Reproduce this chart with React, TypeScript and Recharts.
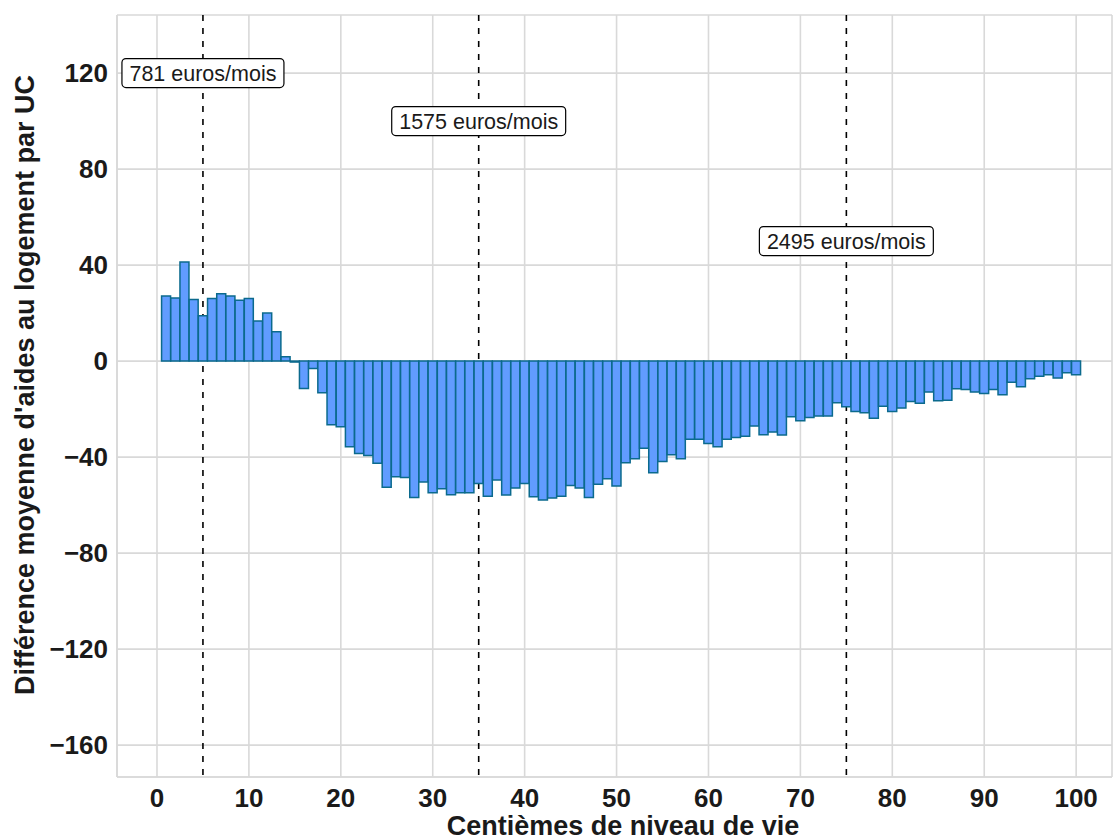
import { BarChart, Bar, XAxis, YAxis, CartesianGrid, ReferenceDot } from 'recharts';

const centiles = Array.from({ length: 100 }, (_, i) => i + 1);

const diffs = [
  27.1, 26.3, 41.3, 25.7, 18.9, 26.1, 28.1, 27.1, 25.3, 26.1,
  16.7, 20.0, 12.2, 1.8, -0.4, -11.4, -3.1, -13.2, -26.5, -27.4,
  -35.7, -38.5, -39.3, -42.6, -52.6, -48.2, -48.5, -56.8, -50.4, -54.9,
  -53.2, -55.7, -54.9, -54.9, -51.0, -56.3, -49.6, -55.8, -52.9, -51.0,
  -56.5, -57.9, -57.1, -56.3, -51.8, -52.9, -56.8, -51.3, -49.0, -52.1,
  -42.4, -40.7, -36.3, -46.5, -41.8, -39.0, -40.7, -32.6, -32.6, -34.3,
  -35.7, -32.6, -31.8, -31.3, -27.1, -30.7, -29.6, -30.8, -23.2, -24.9,
  -23.5, -22.9, -22.9, -17.4, -19.0, -21.0, -21.5, -23.8, -18.8, -21.0,
  -19.6, -16.8, -17.6, -12.9, -16.5, -16.3, -11.5, -11.8, -12.9, -13.5,
  -11.8, -14.0, -8.8, -10.7, -7.4, -6.3, -5.7, -7.1, -4.9, -5.7,
];

const xTicks = [0, 10, 20, 30, 40, 50, 60, 70, 80, 90, 100];
const yTicks = [-160, -120, -80, -40, 0, 40, 80, 120];

const seuils = [5, 35, 75];
const seuilLabels = ['781 euros/mois', '1575 euros/mois', '2495 euros/mois'];
const seuilLabelY = [120, 100, 50];

const data = centiles.map((c, i) => ({ centile: c, diff: diffs[i] }));

const FONT = '"Liberation Sans", Arial, Helvetica, sans-serif';
const GRID = '#d9d9d9';

function textWidth(text: string, size: number) {
  const ctx = document.createElement('canvas').getContext('2d');
  if (!ctx) return text.length * size * 0.5;
  ctx.font = `${size}px "Liberation Sans"`;
  return ctx.measureText(text).width;
}

function SeuilTag({ cx, cy, text }: { cx?: number; cy?: number; text: string }) {
  if (cx == null || cy == null) return null;
  const fs = 21.5;
  const w = textWidth(text, fs) + 15;
  const h = 29;
  return (
    <g>
      <rect x={cx - w / 2} y={cy - h / 2} width={w} height={h} rx={4} ry={4} fill="#fff" stroke="#000" strokeWidth={1.2} />
      <text x={cx} y={cy} dy="0.36em" textAnchor="middle" fontSize={fs} fill="#1a1a1a" fontFamily={FONT}>
        {text}
      </text>
    </g>
  );
}

const fmt = (v: number) => (v < 0 ? `\u2212${Math.abs(v)}` : `${v}`);

export default function App() {
  return (
    <div style={{ position: 'absolute', left: 0, top: 0, width: 1113, height: 840, background: '#fff', fontFamily: FONT }}>
      <BarChart width={1113} height={840} data={data} margin={{ top: 15, right: 1, left: 0, bottom: 0 }} barCategoryGap={0} barGap={0}>
        <CartesianGrid stroke={GRID} strokeWidth={1.6} />
        {/* dashed threshold lines drawn as a grid so they sit behind the bars */}
        <CartesianGrid horizontal={false} stroke="#000" strokeWidth={1.6} strokeDasharray="6 7" verticalValues={seuils} />
        <XAxis
          dataKey="centile"
          type="number"
          domain={[-4.35, 103.9]}
          ticks={xTicks}
          allowDataOverflow
          height={63}
          tickLine={false}
          tickSize={6}
          tickMargin={6}
          axisLine={{ stroke: GRID, strokeWidth: 1.6 }}
          tick={{ fontSize: 26, fontWeight: 700, fill: '#1a1a1a', fontFamily: FONT }}
          label={() => (
            <text x={623} y={835} textAnchor="middle" fontSize={27} fontWeight={700} fill="#1a1a1a" fontFamily={FONT}>
              Centièmes de niveau de vie
            </text>
          )}
        />
        <YAxis
          type="number"
          domain={[-173.3, 144.2]}
          ticks={yTicks}
          allowDataOverflow
          width={117}
          tickLine={false}
          tickSize={6}
          tickMargin={3}
          tickFormatter={fmt}
          axisLine={{ stroke: GRID, strokeWidth: 1.6 }}
          tick={{ fontSize: 26, fontWeight: 700, fill: '#1a1a1a', fontFamily: FONT }}
          label={() => (
            <text x={34} y={385} transform="rotate(-90, 34, 385)" textAnchor="middle" fontSize={27} fontWeight={700} fill="#1a1a1a" fontFamily={FONT}>
              Différence moyenne d'aides au logement par UC
            </text>
          )}
        />
        <Bar dataKey="diff" fill="#619cff" stroke="#0b6a8d" strokeWidth={1.5} isAnimationActive={false} />
        {seuils.map((s, i) => (
          <ReferenceDot
            key={`d${s}`}
            x={s}
            y={seuilLabelY[i]}
            r={0}
            ifOverflow="visible"
            shape={(p: any) => <SeuilTag cx={p.cx} cy={p.cy} text={seuilLabels[i]} />}
          />
        ))}
      </BarChart>
    </div>
  );
}
